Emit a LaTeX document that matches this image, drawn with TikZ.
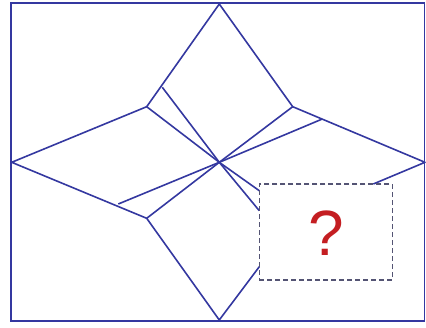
\documentclass[tikz,border=0pt]{standalone}
\usepackage{fontspec}
\setsansfont{Liberation Sans}
\usetikzlibrary{positioning}
\definecolor{lineBlue}{RGB}{52,56,160}
\definecolor{boxGray}{RGB}{84,84,116}
\definecolor{markRed}{RGB}{196,30,34}

\begin{document}
\begin{tikzpicture}[
  x=1pt, y=-1pt,
  edge/.style={draw=lineBlue, line width=1.6pt, line join=round},
  frame/.style={draw=lineBlue, line width=1.7pt},
  hole/.style={draw=boxGray, line width=1.5pt, dashed,
               dash pattern=on 5pt off 3pt, inner sep=0pt,
               minimum width=133pt, minimum height=96pt},
  qmark/.style={inner sep=0pt, text=markRed,
               font=\sffamily\fontsize{64}{64}\selectfont}
]
  \useasboundingbox (0,0) rectangle (426,327);
  \draw[frame] (11,3) rectangle (424.5,321);
  % outer points of the star
  \coordinate (C)  at (219.3,162.3);
  \coordinate (T)  at (219.3,4);
  \coordinate (B)  at (219.3,320);
  \coordinate (L)  at (11.7,162.3);
  \coordinate (R)  at (425,162.3);
  \coordinate (UL) at (146.7,106.7);
  \coordinate (UR) at (292.7,106.7);
  \coordinate (LL) at (146.7,218.3);
  % points on the edges
  \coordinate (P1) at (162.3,87.3);
  \coordinate (P2) at (322.3,119);
  \coordinate (P3) at (118.3,204);
  % ends at the missing box
  \coordinate (E1) at (259.3,190.7);
  \coordinate (E2) at (259.3,210.7);
  \coordinate (E3) at (259.3,266.7);
  \coordinate (E4) at (373.3,184);
  \draw[edge] (E4) -- (R) -- (UR) -- (T) -- (UL) -- (L) -- (LL) -- (B) -- (E3);
  \foreach \p in {UL,P1,UR,P2,LL,P3,E1,E2}
    \draw[edge] (C) -- (\p);
  % the missing piece
  \node[hole] (box) at (325.8,232) {};
  \node[qmark] (q) at (326.7,233.3) {?};
\end{tikzpicture}
\end{document}
